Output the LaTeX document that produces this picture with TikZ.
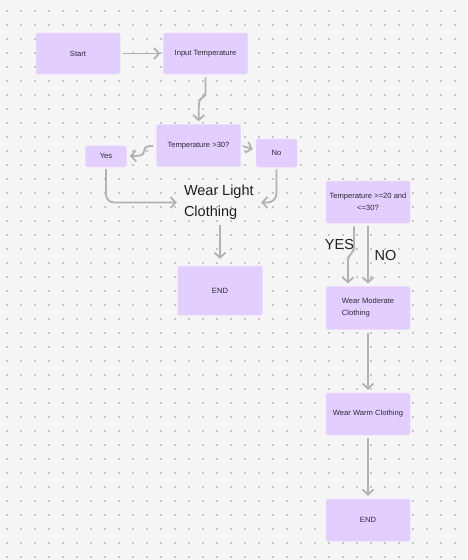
\documentclass[tikz,border=0pt]{standalone}
\usepackage{fontspec}
\setmainfont{Liberation Sans}
\usetikzlibrary{arrows.meta,calc}
\definecolor{bg}{RGB}{245,245,245}
\definecolor{boxfill}{RGB}{227,207,255}
\definecolor{boxedge}{RGB}{233,218,255}
\definecolor{arr}{RGB}{178,178,178}
\definecolor{dotc}{RGB}{150,150,150}
\definecolor{txt}{RGB}{45,40,52}
\begin{document}
\begin{tikzpicture}[x=1pt,y=-1pt,
  box/.style={fill=boxfill, draw=boxedge, line width=0.5pt, rounded corners=2pt,
    minimum width=84pt, minimum height=42pt, inner sep=2pt,
    font=\fontsize{7.6}{12}\selectfont, text=txt, align=center},
  bigtext/.style={font=\fontsize{14.5}{21}\selectfont, text=black!88, inner sep=0pt},
  arrowline/.style={draw=arr, line width=1.8pt,
    -{Straight Barb[length=5pt,width=11pt]}, shorten <=3pt, shorten >=3pt}]
\fill[bg] (0,0) rectangle (467,560);
\useasboundingbox (0,0) rectangle (467,560);
\foreach \i in {0,...,33}{
  \foreach \j in {0,...,39}{
    \fill[dotc] (7+14*\i, 11+14*\j) circle (0.8pt);
  }
}
% left column
\node[box, minimum height=41pt] (start) at (78,53.5) {Start};
\node[box, minimum height=41pt] (input) at (205.5,53.5) {Input Temperature};
\node[box] (t30) at (198.5,145.5) {Temperature >30?};
\node[box, minimum width=41pt, minimum height=21pt] (yes) at (106,156.3) {Yes};
\node[box, minimum width=41pt, minimum height=28pt] (no) at (276.5,153) {No};
\node[bigtext, align=left, text width=72pt] (light) at (220,202.5) {Wear\kern-1pt{} Light\\Clothing};
\node[box, minimum width=84.5pt, minimum height=49pt] (end1) at (220,290.5) {END};
% right column
\node[box] (t20) at (368,202) {Temperature >=20 and\\<=30?};
\node[box, align=left, minimum height=42.6pt] (mod) at (368,308) {Wear Moderate\\Clothing};
\node[box] (warm) at (368,414) {Wear Warm Clothing};
\node[box] (end2) at (368,520) {END};
\node[bigtext] (yeslbl) at (339.5,245) {YES};
\node[bigtext] (nolbl) at (385.5,256) {NO};
% connectors
\draw[arrowline] (start) -- (input);
\draw[arrowline, rounded corners=4pt] (input.south) -- ++(0,22) -- ++(-6.5,3) -- (t30.north);
\draw[arrowline, rounded corners=5pt] ($(t30.west)+(0,0.5)$) -- ++(-12,0) -- ++(0,9.5) -- (yes.east);
\draw[arrowline, shorten <=2pt] (t30.east) -- ($(no.west)+(0,-3)$);
\draw[arrowline, rounded corners=8pt, shorten <=2pt, shorten >=7pt] (yes.south) |- (light.west);
\draw[arrowline, rounded corners=9pt, shorten <=2pt, shorten >=5pt] (no.south) |- (light.east);
\draw[arrowline, shorten <=5pt, shorten >=7pt] (light.south -| end1.north) -- (end1.north);
\draw[arrowline, rounded corners=4pt] ($(t20.south)+(-14,0)$) -- ++(0,28) -- ++(-6,5) -- ($(mod.north)+(-20,0)$);
\draw[arrowline] (t20) -- (mod);
\draw[arrowline] (mod) -- (warm);
\draw[arrowline] (warm) -- (end2);
\end{tikzpicture}
\end{document}
